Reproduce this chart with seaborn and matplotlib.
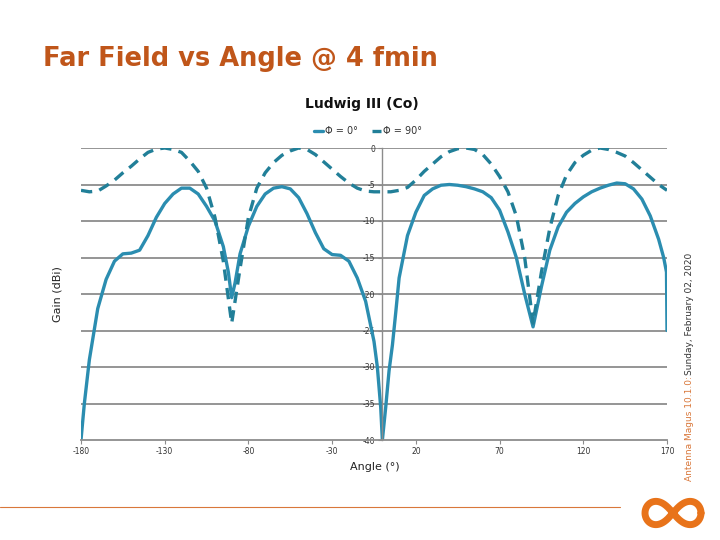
import numpy as np
import pandas as pd
import matplotlib
matplotlib.use("Agg")
import matplotlib.pyplot as plt
import seaborn as sns

# ---- data ----
angle_90 = [-180, -175, -170, -165, -160, -155, -150, -145, -140, -135, -130, -125, -120,
            -115, -110, -105, -100, -95, -90, -85, -80, -75, -70, -65, -60, -55, -50,
            -45, -40, -35, -30, -25, -20, -15, -10, -5, 0, 5, 10, 15, 20, 25, 30, 35, 40,
            45, 50, 55, 60, 65, 70, 75, 80, 85, 90, 95, 100, 105, 110, 115, 120, 125,
            130, 135, 140, 145, 150, 155, 160, 165, 170]
gain_90 = [-5.8, -6.0, -5.9, -5.2, -4.4, -3.4, -2.5, -1.5, -0.6, -0.15, 0.0, -0.2, -0.6,
           -1.8, -3.2, -5.5, -9.5, -15.5, -24.0, -16.5, -9.5, -5.5, -3.4, -2.0, -1.0, -0.4, 0.0,
           -0.2, -0.9, -1.9, -2.9, -3.9, -4.8, -5.5, -5.9, -6.0, -6.0, -6.0, -5.8, -5.4, -4.4,
           -3.2, -2.2, -1.2, -0.5, -0.1, 0.0, -0.2, -0.9, -2.2, -3.9, -6.0, -9.3, -15.0,
           -24.0, -17.0, -11.0, -6.5, -3.7, -2.0, -1.0, -0.3, 0.0, -0.2, -0.6, -1.1, -2.0,
           -3.0, -4.0, -5.0, -5.8]

angle_0 = [-180, -178, -175, -170, -165, -160, -155, -150, -145, -140, -135, -130, -125,
           -120, -115, -110, -105, -100, -95, -92, -90, -88, -85, -80, -75, -70, -65, -60,
           -55, -50, -45, -40, -35, -30, -25, -20, -15, -10, -5, -3, -1, 0, 2, 4, 6, 8, 10,
           15, 20, 25, 30, 35, 40, 45, 50, 55, 60, 65, 70, 75, 80, 85, 90, 95, 100, 105,
           110, 115, 120, 125, 130, 135, 140, 145, 150, 155, 160, 165, 168, 169.7, 170]
gain_0 = [-40.0, -35.0, -29.0, -22.0, -18.0, -15.5, -14.5, -14.4, -14.0, -12.0, -9.5, -7.6,
          -6.3, -5.5, -5.5, -6.3, -8.0, -10.0, -13.5, -17.0, -20.5, -18.5, -14.5, -10.7,
          -8.0, -6.3, -5.5, -5.3, -5.6, -6.8, -9.0, -11.6, -13.8, -14.6, -14.7, -15.5, -17.8,
          -21.0, -26.5, -30.0, -35.5, -40.0, -35.5, -30.5, -27.0, -22.5, -17.8, -12.0, -8.8,
          -6.5, -5.6, -5.1, -5.0, -5.1, -5.3, -5.6, -6.0, -6.8, -8.5, -11.5, -15.0, -20.0,
          -24.5, -19.0, -14.0, -10.8, -8.8, -7.6, -6.7, -6.0, -5.5, -5.1, -4.8, -4.9, -5.6,
          -7.0, -9.3, -12.5, -15.0, -17.0, -25.0]

series_labels = ["\u03a6 = 0\u00b0", "\u03a6 = 90\u00b0"]
x_ticks = [-180, -130, -80, -30, 20, 70, 120, 170]
y_ticks = [0, -5, -10, -15, -20, -25, -30, -35, -40]

df = pd.concat([
    pd.DataFrame({"Angle": angle_0, "Gain": gain_0, "Series": series_labels[0]}),
    pd.DataFrame({"Angle": angle_90, "Gain": gain_90, "Series": series_labels[1]}),
], ignore_index=True)

sns.set_theme(style="white")
plt.rcParams["font.family"] = ["DejaVu Sans"]
plt.rcParams["axes.unicode_minus"] = False

fig = plt.figure(figsize=(7.2, 5.4), dpi=100)
ax = fig.add_axes([81 / 720, 1 - 440 / 540, (667 - 81) / 720, (440 - 148) / 540])

colors = {series_labels[0]: "#2b8db0", series_labels[1]: "#217f98"}
sns.lineplot(data=df, x="Angle", y="Gain", hue="Series", style="Series",
             palette=colors, dashes={series_labels[0]: "", series_labels[1]: (3.4, 2.2)},
             estimator=None, sort=False, linewidth=2.4, ax=ax, legend=True)

ax.set_xlim(-180, 170)
ax.set_ylim(-40, 0)
for yv in y_ticks[:-1]:
    ax.axhline(yv, color="#8c8c8c", linewidth=1.3, zorder=0)

for s in ["top", "right"]:
    ax.spines[s].set_visible(False)
ax.spines["left"].set_position(("data", 0))
ax.spines["left"].set_color("#8c8c8c")
ax.spines["left"].set_linewidth(1.0)
ax.spines["bottom"].set_color("#8c8c8c")
ax.spines["bottom"].set_linewidth(1.3)
ax.set_xticks(x_ticks)
ax.set_yticks(y_ticks)
ax.tick_params(axis="both", labelsize=5.5, colors="#8c8c8c", labelcolor="#333333",
               length=3, width=0.8, direction="out", pad=2)
ax.tick_params(axis="x", bottom=True)
ax.tick_params(axis="y", left=True)

ax.set_xlabel("Angle (\u00b0)", fontsize=8, color="#222222")
ax.set_ylabel("Gain (dBi)", fontsize=8, color="#222222")
ax.yaxis.set_label_coords(-19 / 586, 0.5)
ax.xaxis.set_label_coords((375 - 81) / 586, -22 / 292)

leg = ax.legend(loc="center", bbox_to_anchor=((368 - 81) / 586, 1 + (148 - 131) / 292),
                ncol=2, frameon=False, fontsize=7, handlelength=1.0, handletextpad=0.2,
                columnspacing=1.4)
for t in leg.get_texts():
    t.set_color("#333333")

fig.text(362 / 720, 1 - 104 / 540, "Ludwig III (Co)", fontsize=10, fontweight="bold",
         ha="center", va="center", color="#111111")

fig.text(43 / 720, 1 - 59 / 540, "Far Field vs Angle @ 4 fmin", fontsize=18.5,
         fontweight="bold", ha="left", va="center", color="#c0561a")

fig.text(689 / 720, 1 - 481 / 540, "Antenna Magus 10.1.0: ", fontsize=6.5, rotation=90,
         ha="center", va="bottom", color="#d9773a")
fig.text(689 / 720, 1 - 375 / 540, "Sunday, February 02, 2020", fontsize=6.5, rotation=90,
         ha="center", va="bottom", color="#333333")

# bottom rule
fig.add_artist(plt.Line2D([0, 620 / 720], [1 - 507 / 540] * 2, color="#d9773a", linewidth=0.8))

# logo
lax = fig.add_axes([638 / 720, 1 - 532 / 540, 70 / 720, 38 / 540])
lax.set_axis_off()
tt = np.linspace(0, 2 * np.pi, 300)
lx = np.cos(tt) / (1 + np.sin(tt) ** 2)
ly = np.sin(tt) * np.cos(tt) / (1 + np.sin(tt) ** 2)
lax.plot(lx, ly * 1.3, color="#e8731a", linewidth=5, solid_capstyle="round")
lax.set_xlim(-1.25, 1.25)
lax.set_ylim(-0.75, 0.75)

fig.savefig("out.png", dpi=100)
